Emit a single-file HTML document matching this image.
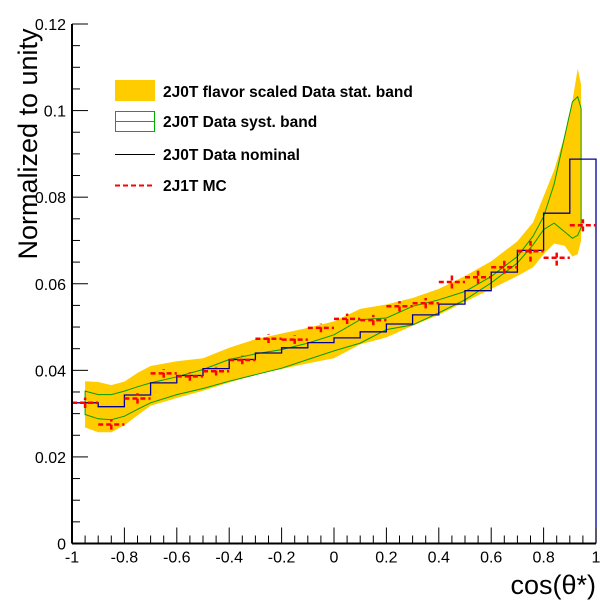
<!DOCTYPE html>
<html><head><meta charset="utf-8"><style>
html,body{margin:0;padding:0;background:#fff}
svg{display:block;font-family:"Liberation Sans",Arial,sans-serif}
</style></head><body>
<svg id="chart" width="600" height="604" viewBox="0 0 600 604" xmlns="http://www.w3.org/2000/svg">
<rect width="600" height="604" fill="#fff"/>
<g id="bands"></g>
<g id="hists"></g>
<g id="axes"></g>
<text x="37" y="144" transform="rotate(-90 37 144)" text-anchor="middle" font-size="27">Normalized to unity</text>
<text x="596" y="594" text-anchor="end" font-size="27">cos(θ*)</text>
<g>
  <g>
    <rect x="115" y="80" width="40" height="21" fill="#ffcc00"/>
    <text x="163" y="97" font-size="15.5" font-weight="bold">2J0T flavor scaled Data stat. band</text>
  </g>
  <g>
    <rect x="115.5" y="111.5" width="39" height="20" fill="none" stroke="#00b000" stroke-width="1"/>
    <line x1="115" y1="121.5" x2="155" y2="121.5" stroke="#00b000"/>
    <text x="163" y="127" font-size="15.5" font-weight="bold">2J0T Data syst. band</text>
  </g>
  <g>
    <line x1="115" y1="154.5" x2="155" y2="154.5" stroke="#000"/>
    <text x="163" y="160" font-size="15.5" font-weight="bold">2J0T Data nominal</text>
  </g>
  <g>
    <line x1="115" y1="185.5" x2="155" y2="185.5" stroke="#ff0000" stroke-width="2" stroke-dasharray="5,3"/>
    <text x="163" y="191" font-size="15.5" font-weight="bold">2J1T MC</text>
  </g>
</g>
</svg>
<script>
const binEdgesLow = [-1,-0.9,-0.8,-0.7,-0.6,-0.5,-0.4,-0.3,-0.2,-0.1,0,0.1,0.2,0.3,0.4,0.5,0.6,0.7,0.8,0.9];
const nominal = [0.0325,0.0316,0.0343,0.0371,0.0388,0.0404,0.0425,0.0440,0.0452,0.0464,0.0475,0.0489,0.0507,0.0528,0.0553,0.0584,0.0627,0.0677,0.0763,0.0888];
const mcValues = [0.0325,0.0275,0.0335,0.0393,0.0386,0.0398,0.0424,0.0473,0.0471,0.0498,0.0519,0.0516,0.0548,0.0555,0.0604,0.0615,0.0638,0.0675,0.0660,0.0735];
const mcErrors = [0.0012,0.0012,0.0012,0.0010,0.0010,0.0010,0.0010,0.0010,0.0010,0.0010,0.0012,0.0012,0.0012,0.0012,0.0015,0.0015,0.0015,0.0024,0.0018,0.0014];
const bandX = [-0.95,-0.9,-0.85,-0.8,-0.75,-0.7,-0.6,-0.5,-0.4,-0.3,-0.2,-0.1,0,0.1,0.2,0.3,0.4,0.5,0.6,0.7,0.76,0.8,0.84,0.88,0.91,0.93,0.943];
const statUpper = [.0375,.0373,.0366,.0374,.0394,.0410,.0421,.0428,.0452,.0472,.0485,.0498,.0513,.0542,.0552,.0567,.0588,.0618,.0652,.0698,.0742,.0802,.0862,.0942,.1022,.1097,.1060];
const statLower = [.0268,.0257,.0257,.0273,.0296,.0318,.0336,.0353,.0372,.0390,.0403,.0416,.0428,.0460,.0476,.0503,.0528,.0558,.0588,.0618,.0638,.0668,.0693,.0688,.0663,.0668,.0700];
const systUpper = [.0352,.0344,.0344,.0352,.0362,.0371,.0385,.0402,.0425,.0438,.0448,.0463,.0482,.0517,.0521,.0548,.0563,.0582,.0617,.0663,.0710,.0755,.0830,.0940,.1020,.1032,.1005];
const systLower = [.0298,.0288,.0286,.0294,.0310,.0325,.0344,.0358,.0375,.0390,.0405,.0425,.0445,.0463,.0494,.0505,.0533,.0563,.0602,.0648,.0690,.0725,.0740,.0720,.0705,.0712,.0730];
const yTickLabels = ["0","0.02","0.04","0.06","0.08","0.1","0.12"];
const xTickLabels = ["-1","-0.8","-0.6","-0.4","-0.2","0","0.2","0.4","0.6","0.8","1"];

const NS="http://www.w3.org/2000/svg";
const X0=72,X1=596,Y0=543.5,YTOP=24;
const xs=v=>X0+(v+1)/2*(X1-X0);
const ys=v=>Y0-v/0.12*(Y0-YTOP);
function mk(tag,attrs,parent){const e=document.createElementNS(NS,tag);for(const k in attrs)e.setAttribute(k,attrs[k]);parent.appendChild(e);return e;}

const bands=document.getElementById('bands');
function bandPath(up,lo){let d='';bandX.forEach((x,i)=>{d+=(i?'L':'M')+xs(x).toFixed(1)+','+ys(up[i]).toFixed(1);});for(let i=bandX.length-1;i>=0;i--)d+='L'+xs(bandX[i]).toFixed(1)+','+ys(lo[i]).toFixed(1);return d+'Z';}
const sb=mk('path',{d:bandPath(statUpper,statLower),fill:'#ffcc00'},bands);


const gb=mk('path',{d:bandPath(systUpper,systLower),fill:'none',stroke:'#00a000','stroke-width':1},bands);



const hists=document.getElementById('hists');
let d='M'+xs(-1)+','+ys(0);
nominal.forEach((v,i)=>{const a=xs(binEdgesLow[i]),b=xs(binEdgesLow[i]+0.1);d+='L'+a.toFixed(1)+','+ys(v).toFixed(1)+'L'+b.toFixed(1)+','+ys(v).toFixed(1);});
d+='L'+xs(1)+','+ys(0);
const nh=mk('path',{d:d,fill:'none',stroke:'#000099','stroke-width':1.3},hists);


mcValues.forEach((v,i)=>{
  const a=xs(binEdgesLow[i]),b=xs(binEdgesLow[i]+0.1),c=(a+b)/2;
  const g=mk('g',{},hists);
  
  
  mk('line',{x1:a,y1:ys(v),x2:b,y2:ys(v),stroke:'#ff0000','stroke-width':2.5,'stroke-dasharray':'5,3'},g);
  mk('line',{x1:c,y1:ys(v-mcErrors[i]),x2:c,y2:ys(v+mcErrors[i]),stroke:'#ff0000','stroke-width':2.5,'stroke-dasharray':'5,3'},g);
});

const axes=document.getElementById('axes');
mk('line',{x1:X0,y1:Y0,x2:X1,y2:Y0,stroke:'#000','stroke-width':2},axes);
mk('line',{x1:X0,y1:Y0,x2:X0,y2:YTOP,stroke:'#000','stroke-width':2},axes);
for(let i=0;i<=24;i++){const v=i*0.005,y=ys(v),L=(i%4===0)?16:8;mk('line',{x1:X0,y1:y,x2:X0+L,y2:y,stroke:'#000'},axes);}
yTickLabels.forEach((t,i)=>{const e=mk('text',{x:X0-6,y:ys(i*0.02)+6,'text-anchor':'end','font-size':16},axes);e.textContent=t;
  
  });
for(let i=0;i<=40;i++){const v=-1+i*0.05,x=xs(v),L=(i%4===0)?16:8;mk('line',{x1:x,y1:Y0,x2:x,y2:Y0-L,stroke:'#000'},axes);}
xTickLabels.forEach((t,i)=>{const e=mk('text',{x:xs(-1+i*0.2),y:Y0+19,'text-anchor':'middle','font-size':16},axes);e.textContent=t;
  
  });
</script>
</body></html>
